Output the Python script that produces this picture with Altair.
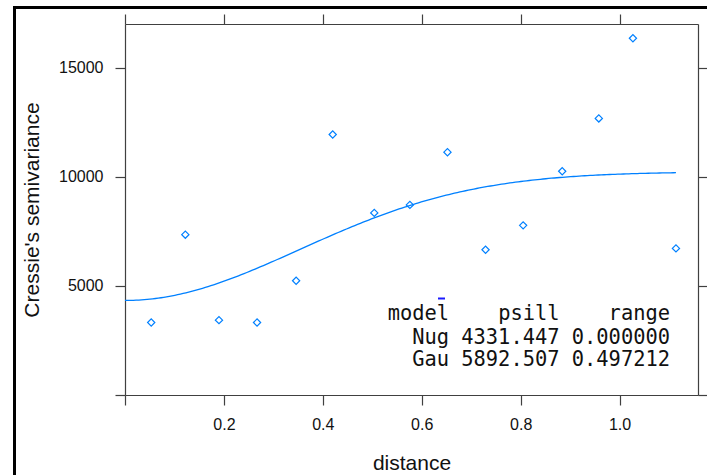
import altair as alt
import numpy as np
import pandas as pd

# Empirical semivariogram (lag distance, Cressie's semivariance)
dist = [0.053, 0.122, 0.190, 0.267, 0.346, 0.420, 0.504, 0.576,
        0.652, 0.729, 0.805, 0.884, 0.958, 1.027, 1.114]
gamma = [3320, 7346, 3430, 3320, 5234, 11938, 8343, 8710,
         11125, 6657, 7773, 10253, 12672, 16345, 6717]

# Fitted variogram model: nugget + Gaussian structure
models = ["Nug", "Gau"]
psill = [4331.447, 5892.507]
ranges = [0.000000, 0.497212]

x_ticks = [0, 0.2, 0.4, 0.6, 0.8, 1.0]
y_ticks = [0, 5000, 10000, 15000]

BLUE = "#0080ff"
AXIS = "#404040"
W, H = 573, 371

pts = pd.DataFrame({"dist": dist, "gamma": gamma})

# model line evaluated from the fitted parameters
h = np.linspace(0, max(dist), 200)
g = psill[0] + psill[1] * (1 - np.exp(-(h / ranges[1]) ** 2))
curve = pd.DataFrame({"dist": h, "gamma": g})

xscale = alt.Scale(domain=[0, 1.04 * max(dist)], nice=False, zero=False)
yscale = alt.Scale(domain=[0, 1.04 * max(gamma)], nice=False, zero=False)

hide_zero = "datum.value == 0 ? '' : datum.label"

common_axis = dict(
    domainColor=AXIS, domainWidth=1.2, tickColor=AXIS, tickWidth=1.2,
    tickSize=10, grid=False, labelFont="Liberation Sans", labelFontSize=16,
    labelColor="#111111", titleFont="Liberation Sans", titleFontSize=21,
    titleFontWeight="normal", titleColor="#111111",
)

points = alt.Chart(pts).mark_point(
    shape="diamond", filled=False, size=52, strokeWidth=1.2, color=BLUE, opacity=1
).encode(
    x=alt.X("dist:Q", scale=xscale, axis=alt.Axis(
        orient="bottom", values=x_ticks, format=".1f", labelExpr=hide_zero,
        labelPadding=11, title="distance", titleBaseline="alphabetic",
        titleY=74, titleX=W / 2, **common_axis)),
    y=alt.Y("gamma:Q", scale=yscale, axis=alt.Axis(
        orient="left", values=y_ticks, format="d", labelExpr=hide_zero,
        labelPadding=12, title="Cressie's semivariance",
        titleBaseline="alphabetic", titleX=-87, titleY=H / 2,
        **common_axis)),
)

line = alt.Chart(curve).mark_line(color=BLUE, strokeWidth=1.3).encode(
    x=alt.X("dist:Q", scale=xscale, axis=alt.Axis(
        orient="top", values=x_ticks, labels=False, title=None, **common_axis)),
    y=alt.Y("gamma:Q", scale=yscale, axis=alt.Axis(
        orient="right", values=y_ticks, labels=False, title=None, **common_axis)),
)

# parameter table of the fitted model, fixed-width columns (right aligned)
NBSP = "\u00a0"
header = f"{'model':>5} {'psill':>8} {'range':>8}"
rows = [f"{m:>5} {p:8.3f} {r:8.6f}" for m, p, r in zip(models, psill, ranges)]
table_lines = [s.replace(" ", NBSP) for s in [header] + rows]
table_y = [296, 320, 342]

table_layers = []
for txt, ty in zip(table_lines, table_y):
    table_layers.append(
        alt.Chart(pd.DataFrame({"t": [txt]})).mark_text(
            font="DejaVu Sans Mono", fontSize=20.4, align="right",
            baseline="alphabetic", color="#111111"
        ).encode(text="t:N", x=alt.value(545), y=alt.value(ty))
    )

# small text-cursor dash above the header
cursor = alt.Chart(pd.DataFrame({"a": [0]})).mark_rule(
    color="#1a1aff", strokeWidth=2).encode(
    x=alt.value(313), x2=alt.value(320), y=alt.value(274.5))

# window frame around the graphics device
frame_top = alt.Chart(pd.DataFrame({"a": [0]})).mark_rule(
    color="black", strokeWidth=3).encode(
    x=alt.value(-112), x2=alt.value(590), y=alt.value(-16.5))
frame_left = alt.Chart(pd.DataFrame({"a": [0]})).mark_rule(
    color="black", strokeWidth=3).encode(
    x=alt.value(-110.5), y=alt.value(-18), y2=alt.value(460))

chart = alt.layer(
    points, line, *table_layers, cursor, frame_top, frame_left
).resolve_axis(
    x="independent", y="independent"
).properties(
    width=W, height=H,
    padding={"left": 125, "top": 24, "right": 9, "bottom": 80},
    autosize=alt.AutoSizeParams(type="none"),
).configure_view(
    stroke=None
).configure(background="white")

chart.save("out.html", embed_options={"renderer": "svg", "actions": False})
